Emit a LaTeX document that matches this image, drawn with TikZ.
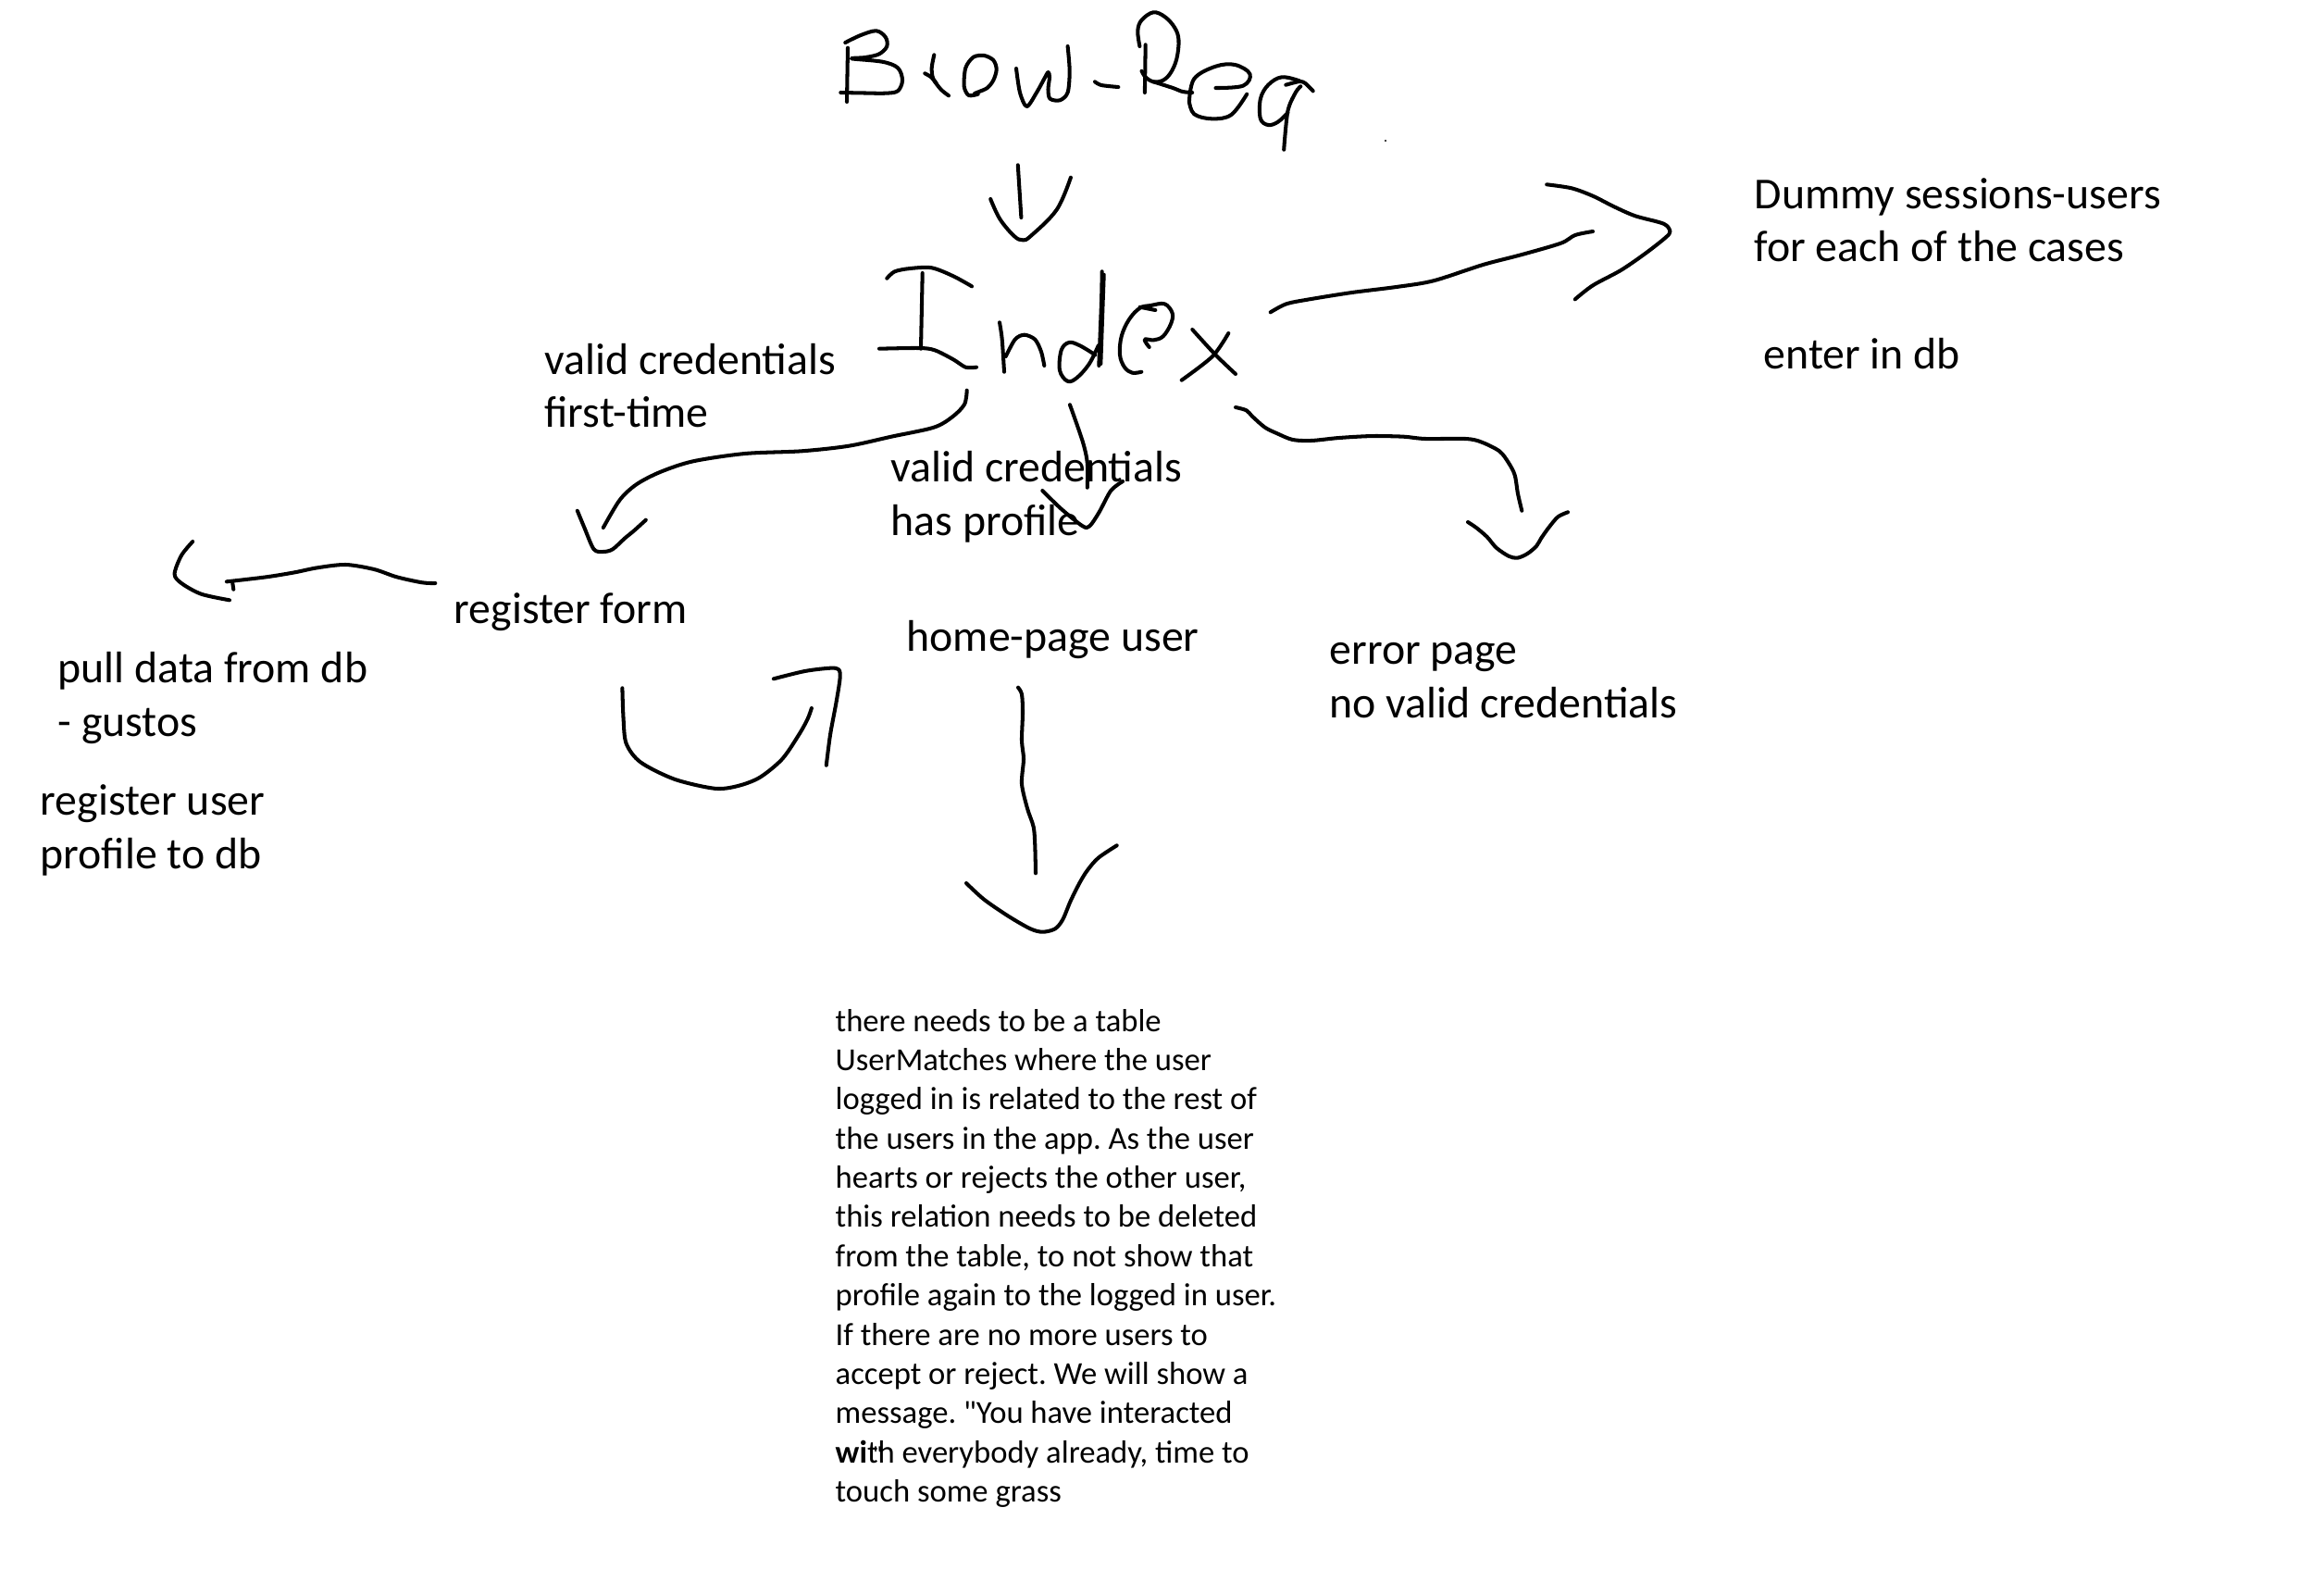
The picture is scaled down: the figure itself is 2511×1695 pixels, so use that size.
\documentclass[tikz,border=0pt]{standalone}
\usepackage{fontspec}
\setmainfont{Carlito}
\frenchspacing
\newcommand{\txtlines}[1]{\begin{tabular}[t]{@{}l@{}}#1\end{tabular}}
\begin{document}
\begin{tikzpicture}[x=0.1mm,y=-0.1mm,
  ink/.style={line width=1.15pt,line cap=round,line join=round},
  lbl/.style={anchor=base west,inner sep=0pt,font=\fontsize{13.6}{16.5}\selectfont},
  notetext/.style={anchor=base west,inner sep=0pt,font=\fontsize{9.85}{12.06}\selectfont}]
\useasboundingbox[fill=white] (0,0) rectangle (2511,1695);

% ---------- text ----------
\node[lbl] (dummy) at (1895,225) {\txtlines{Dummy sessions-users\\for each of the cases}};
\node[lbl] (enterdb) at (1905,398) {enter in db};
\node[lbl] (firsttime) at (588,404) {\txtlines{valid credentials\\first-time}};
\node[lbl] (hasprofile) at (962,520) {\txtlines{valid credentials\\has profile}};
\node[lbl] (regform) at (490,673) {register form};
\node[lbl] (home) at (979,703) {home-page user};
\node[lbl] (error) at (1436,717) {\txtlines{error page\\no valid credentials}};
\node[lbl] (pull) at (62,737) {\txtlines{pull data from db\\- gustos}};
\node[lbl] (reguser) at (43,880) {\txtlines{register user\\profile to db}};
\node[notetext] (note) at (902,1114) {\txtlines{%
there needs to be a table\\
UserMatches where the user\\
logged in is related to the rest of\\
the users in the app. As the user\\
hearts or rejects the other user,\\
this relation needs to be deleted\\
from the table, to not show that\\
profile again to the logged in user.\\
If there are no more users to\\
accept or reject. We will show a\\
message. \textquotedbl You have interacted\\
\textbf{wi}t\rlap{\kern-0.16em\raisebox{0.05ex}{\scriptsize\textquotedbl}}h everybody already, time to\\
touch some grass}};

% ---------- handwritten title "Brow-Req" ----------
\draw[ink] plot[smooth,tension=0.55] coordinates {(913.3,46) (930,38) (946.7,33.3) (956.7,40) (958.3,50) (950,58.3) (935,62) (920,63.3) (953.3,66.7) (970,73.3) (975,86.7) (970,98.3) (956.7,100.7) (935,100.5) (908.3,100)};
\draw[ink] (916,51.7) -- (915,110);
\draw[ink] plot[smooth] coordinates {(1009.3,59.3) (1006.7,73.3) (1008.3,85) (1016.7,96.7) (1025,103.3)};
\draw[ink] plot[smooth] coordinates {(999.3,79.3) (1006,83.3) (1011.7,90)};
\draw[ink] plot[smooth] coordinates {(1056.7,101.7) (1046.7,103) (1041.7,93.3) (1043.3,73.3) (1051.7,61.7) (1063.3,60) (1073.3,65) (1076.7,75) (1073.3,86.7) (1066.7,95) (1056.7,99.5) (1053,101)};
\draw[ink] plot[smooth,tension=0.5] coordinates {(1098,74) (1102,100) (1109.4,115) (1120,100) (1128.3,85) (1132.5,78) (1134,83.3) (1132.5,96.7) (1134.5,106.7) (1145.2,108.3) (1153.6,100) (1155.7,76.7) (1153.6,50)};
\draw[ink] plot[smooth] coordinates {(1183,88.3) (1190,92) (1208.3,94)};
\draw[ink] plot[smooth,tension=0.6] coordinates {(1231.4,50) (1229.3,33.3) (1233.5,21.7) (1246.2,13.3) (1258.8,18.3) (1269.3,30) (1273.5,43.3) (1271.4,63.3) (1265.1,78.3) (1256.7,86.7) (1246.2,88.3) (1237.7,83.3) (1233.5,76.7)};
\draw[ink] plot[smooth] coordinates {(1246.2,88.3) (1267.2,95) (1277.7,99) (1288.2,100)};
\draw[ink] (1237.7,48.3) -- (1236.9,100);
\draw[ink] plot[smooth,tension=0.6] coordinates {(1284.9,110) (1290.3,85) (1313.5,71.7) (1334.5,70) (1350.5,80) (1343,92.7) (1313.5,95)};
\draw[ink] plot[smooth,tension=0.6] coordinates {(1347.2,101.7) (1330.3,124) (1309.3,128.3) (1290.3,123.3) (1284.9,110)};
\draw[ink] plot[smooth,tension=0.6] coordinates {(1404,87.3) (1385,83.3) (1370.3,91.7) (1361.9,106.7) (1361.9,128.3) (1370.3,135) (1380.8,131.7) (1391.4,121.7)};
\draw[ink] plot[smooth] coordinates {(1389.3,91.7) (1404,88) (1410.3,90) (1418.7,98.3)};
\draw[ink] plot[smooth] coordinates {(1405.3,93.3) (1399.8,100) (1391.4,120) (1387.2,161.7)};
\fill (1497,152) circle (1.2);

% arrow from the title down to Index
\draw[ink] (1099.8,178.3) -- (1103.4,235);
\draw[ink] plot[smooth,tension=0.6] coordinates {(1070.2,215) (1080.4,236.7) (1095.7,255) (1104.9,259.3) (1113.6,255) (1141.6,226.7) (1156.9,191.7)};

% ---------- handwritten "Index" ----------
\draw[ink] plot[smooth] coordinates {(958.3,300.7) (966.7,293.3) (983.3,290) (1006.7,289.3) (1030,298.3) (1050,309.3)};
\draw[ink] (996.7,295) -- (995,376.7);
\draw[ink] plot[smooth] coordinates {(950,376.7) (993.3,376) (1010,378.3) (1030,388.3) (1043.3,396.7) (1055,396.7)};
\draw[ink] plot[smooth] coordinates {(1080,348.3) (1082.7,366.7) (1085,401.7)};
\draw[ink] plot[smooth] coordinates {(1086.7,385) (1096.7,366.7) (1106.7,361.7) (1118.3,366.7) (1125,380) (1128.3,395)};
\draw[ink] plot[smooth,tension=0.6] coordinates {(1183.3,383.3) (1166.7,373.3) (1155,370) (1146.7,378.3) (1145,400) (1153.3,411.7) (1163.3,408.3) (1176.7,393.3) (1186.7,373.3)};
\draw[ink] plot[smooth] coordinates {(1190.7,293.3) (1190,326.7) (1187.3,395)};
\draw[ink] plot[smooth] coordinates {(1192.7,296.7) (1191.5,330) (1189.3,393)};
\draw[ink] plot[smooth,tension=0.6] coordinates {(1241.7,375) (1236.7,366.7) (1246.7,367.3) (1256.7,363.3) (1265,350) (1266.7,338.3) (1258.3,328.3) (1243.3,330) (1231.7,332.7) (1220,345) (1211.7,363.3) (1210,383.3) (1215,396.7) (1223.3,402.7) (1233.3,401.7)};
\draw[ink] (1231.7,331.7) -- (1248.3,335);
\draw[ink] plot[smooth] coordinates {(1288.3,356) (1313.3,383.3) (1335,404)};
\draw[ink] plot[smooth] coordinates {(1327.3,360) (1310,385) (1276.7,410.7)};

% ---------- arrows out of Index ----------
% to the dummy users
\draw[ink] plot[smooth,tension=0.5] coordinates {(1372.7,337.3) (1389.9,328.3) (1414.8,323.3) (1460.7,316) (1508.6,310) (1548.8,303.3) (1602.3,286) (1644.4,275) (1686.5,262.7) (1701.8,254) (1721,250)};
\draw[ink] plot[smooth,tension=0.5] coordinates {(1671.2,199.3) (1698,203.3) (1721,211.7) (1744,223.3) (1766.9,233.3) (1797.5,241.7) (1804.4,250) (1799.5,256.7) (1778.4,273.3) (1751.7,291.7) (1721,308.3) (1701.8,323.3)};
% to the register form
\draw[ink] plot[smooth,tension=0.5] coordinates {(1044.7,421.7) (1042.1,436.7) (1029.4,450) (1009,461.7) (963,471.7) (917.1,481.7) (866.1,487.3) (804.9,490) (748.8,498.3) (713.1,510) (687.6,523.3) (669.7,540) (651.8,570)};
\draw[ink] plot[smooth,tension=0.5] coordinates {(623.8,551.7) (631.4,570) (641.6,593.3) (651.8,596) (662,593.3) (674.8,581.7) (685,573.3) (697.8,561.7)};
% to the home page
\draw[ink] plot[smooth] coordinates {(1156,437.3) (1169.7,476.7) (1174.8,500) (1174.8,526.7)};
\draw[ink] plot[smooth,tension=0.5] coordinates {(1126.3,530) (1146.9,550) (1169.7,568.3) (1177.3,568.3) (1187.6,553.3) (1200.3,530) (1213.1,520)};
% to the error page
\draw[ink] plot[smooth,tension=0.5] coordinates {(1335,440) (1346.7,443.3) (1353.3,450) (1366.7,461.7) (1380,468.3) (1396.7,475) (1416.7,476) (1443.3,473.3) (1466.7,471.7) (1486.7,471) (1516.7,471.7) (1540,474) (1583.3,474) (1600,477.3) (1620,487.3) (1630,500) (1636.7,513.3) (1640,533.3) (1644.3,551.7)};
\draw[ink] plot[smooth,tension=0.5] coordinates {(1586,564) (1595,570) (1606.7,580) (1616.7,591.7) (1630,600.7) (1639.3,602.7) (1650,598.3) (1660,590) (1665,581.7) (1673.3,570) (1683.3,558.3) (1694,553.3)};

% ---------- register form side ----------
\draw[ink] plot[smooth,tension=0.5] coordinates {(470.3,630) (456.2,629.3) (428.7,623.3) (404.2,615) (373.5,610) (342.9,613.3) (318.4,618.3) (287.8,623.3) (244.9,628.3)};
\draw[ink] plot[smooth,tension=0.5] coordinates {(208.2,585) (196,600) (188.6,620) (196,630) (217.4,641.7) (248,648.3)};
\draw[ink] (251,628) -- (252.3,636.7);
% loop from the register form over to the home page
\draw[ink] plot[smooth,tension=0.5] coordinates {(672.4,743.3) (673.6,776.7) (676.7,803.3) (692,823.3) (728.7,841.7) (771.6,851.7) (796.1,849.3) (820.6,840) (845.1,820) (863.4,793.3) (872.6,776.7) (876.9,765)};
\draw[ink] plot[smooth,tension=0.5] coordinates {(835.9,733.3) (869.6,725) (897.1,721.7) (906.3,723.3) (907.5,733.3) (903.3,760) (897.1,793.3) (892.8,826.7)};

% ---------- home page down to the note ----------
\draw[ink] plot[smooth,tension=0.5] coordinates {(1100,742.7) (1104,750) (1105,770) (1104,800) (1106,820) (1104,846.7) (1110,873.3) (1116.7,893.3) (1118.3,913.3) (1119,943.3)};
\draw[ink] plot[smooth,tension=0.5] coordinates {(1044,954) (1063.3,971.7) (1090,990) (1113.3,1003.3) (1126.7,1006.7) (1140,1003.3) (1148.3,993.3) (1156.7,973.3) (1166.7,953.3) (1175,940) (1186.7,926.7) (1206.7,913.3)};
\end{tikzpicture}
\end{document}
